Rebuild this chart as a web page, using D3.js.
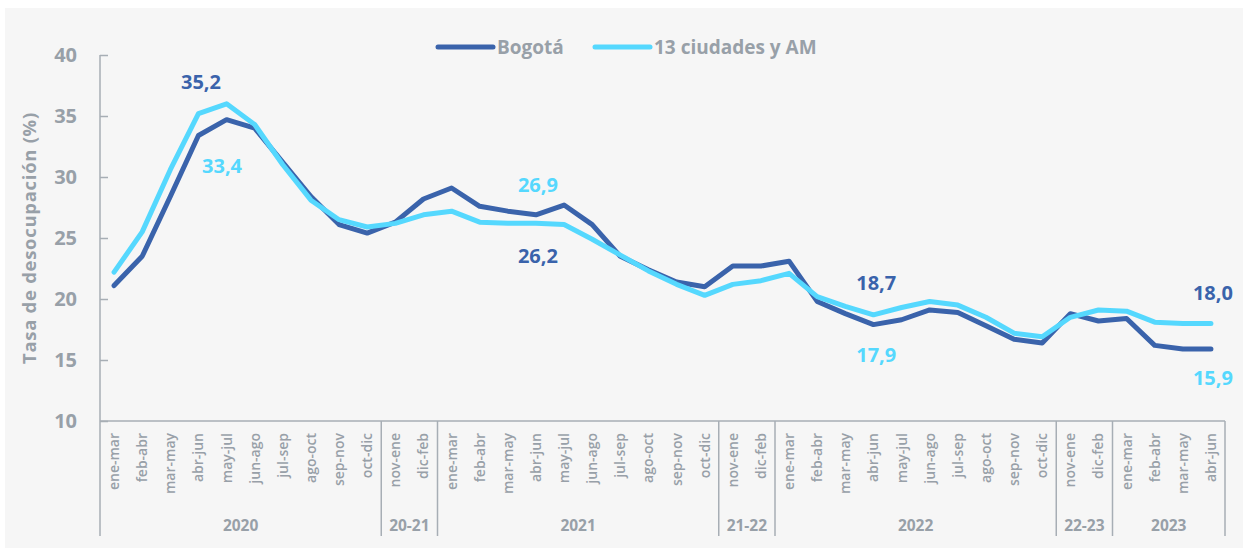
<!DOCTYPE html>
<html>
<head>
<meta charset="utf-8" />
<title>Tasa de desocupación</title>
<script src="https://cdn.jsdelivr.net/npm/d3@7"></script>
<style>
    body { margin: 0; background: #ffffff; }
    svg text { font-family: "Open Sans", Lato, sans-serif; }
    .axis path, .axis line { stroke: #a7aeb5; stroke-width: 1.5; }
    .grey { fill: #98a0a8; font-weight: 700; }
</style>
</head>
<body>
<div id="chart"></div>
<script>
// periodos móviles trimestrales
var meses = ["ene-mar","feb-abr","mar-may","abr-jun","may-jul","jun-ago","jul-sep","ago-oct","sep-nov","oct-dic"];
var grupos = ["2020", "20-21", "2021", "21-22", "2022", "22-23", "2023"];
var tamGrupos = [10, 2, 10, 2, 10, 2, 4];
var periodos = [].concat(meses, ["nov-ene","dic-feb"], meses, ["nov-ene","dic-feb"], meses,
                         ["nov-ene","dic-feb"], meses.slice(0, 4));

var bogota = [21.1, 23.5, 28.4, 33.4, 34.7, 34.0, 31.2, 28.4, 26.1, 25.4,
              26.3, 28.2,
              29.1, 27.6, 27.2, 26.9, 27.7, 26.1, 23.5, 22.4, 21.4, 21.0,
              22.7, 22.7,
              23.1, 19.8, 18.8, 17.9, 18.3, 19.1, 18.9, 17.8, 16.7, 16.4,
              18.8, 18.2,
              18.4, 16.2, 15.9, 15.9];
var ciudades = [22.2, 25.5, 30.6, 35.2, 36.0, 34.3, 31.0, 28.1, 26.5, 25.9,
                26.2, 26.9,
                27.2, 26.3, 26.2, 26.2, 26.1, 24.9, 23.6, 22.3, 21.2, 20.3,
                21.2, 21.5,
                22.1, 20.2, 19.4, 18.7, 19.3, 19.8, 19.5, 18.5, 17.2, 16.9,
                18.5, 19.1,
                19.0, 18.1, 18.0, 18.0];
var yTicks = [10, 15, 20, 25, 30, 35, 40];

// etiquetas: indice, texto, serie, desplazamiento vertical
var etiquetas = [
    {i: 3.09, txt: "35,2", s: "b", v: 35.2, dy: -30},
    {i: 3.84, txt: "33,4", s: "c", v: 33.4, dy: 32},
    {i: 15.07, txt: "26,9", s: "c", v: 26.9, dy: -28},
    {i: 15.07, txt: "26,2", s: "b", v: 26.2, dy: 34},
    {i: 27.1, txt: "18,7", s: "b", v: 18.7, dy: -30},
    {i: 27.1, txt: "17,9", s: "c", v: 17.9, dy: 32},
    {i: 39.07, txt: "18,0", s: "b", v: 18.0, dy: -29},
    {i: 39.07, txt: "15,9", s: "c", v: 15.9, dy: 31}
];

var W = 1248, H = 552;
var colB = "#3a63ab", colC = "#55d8fe";
var mLeft = 100, mRight = 1225, mTop = 55, mBottom = 421;

var svg = d3.select("#chart").append("svg")
    .attr("width", W).attr("height", H);

svg.append("rect")
    .attr("x", 5).attr("y", 8)
    .attr("width", W - 10).attr("height", H - 12)
    .attr("fill", "#f6f6f6");

var idx = d3.range(periodos.length);
var x = d3.scalePoint().domain(idx).range([mLeft, mRight]).padding(0.5);
var y = d3.scaleLinear().domain([10, 40]).range([mBottom, mTop]);

// eje y
var yAxis = svg.append("g")
    .attr("class", "axis")
    .attr("transform", "translate(" + mLeft + ",0)")
    .call(d3.axisLeft(y).tickValues(yTicks).tickSizeInner(-8).tickSizeOuter(0).tickPadding(23));
yAxis.select(".domain").remove();
yAxis.selectAll("text")
    .attr("class", "grey")
    .style("font-size", "20px");

svg.append("text")
    .attr("class", "grey")
    .attr("transform", "translate(36,238) rotate(-90)")
    .attr("text-anchor", "middle")
    .style("font-size", "18.5px")
    .style("letter-spacing", "0.7px")
    .text("Tasa de desocupación (%)");

// lineas de ejes
svg.append("line").attr("x1", mLeft).attr("x2", mLeft).attr("y1", mTop).attr("y2", 536)
    .attr("stroke", "#a7aeb5").attr("stroke-width", 1.5);
svg.append("line").attr("x1", mLeft).attr("x2", mRight).attr("y1", mBottom).attr("y2", mBottom)
    .attr("stroke", "#a7aeb5").attr("stroke-width", 1.5);

// etiquetas del eje x
var step = x.step();
svg.append("g").selectAll("text")
    .data(periodos)
    .enter().append("text")
    .attr("fill", "#98a0a8")
    .style("font-size", "14px")
    .style("font-weight", 600)
    .attr("text-anchor", "end")
    .attr("transform", function(d, i) { return "translate(" + (x(i) + 5) + ",433) rotate(-90)"; })
    .text(function(d) { return d; });

// grupos
var acc = 0;
grupos.forEach(function(g, k) {
    var x0 = mLeft + acc * step;
    acc += tamGrupos[k];
    var x1 = mLeft + acc * step;
    svg.append("line").attr("x1", x1).attr("x2", x1).attr("y1", mBottom).attr("y2", 536)
        .attr("stroke", "#a7aeb5").attr("stroke-width", 1.5);
    svg.append("text")
        .attr("class", "grey")
        .attr("x", (x0 + x1) / 2).attr("y", 531)
        .attr("text-anchor", "middle")
        .style("font-size", "15.5px")
        .text(g);
});

// series
var line = d3.line()
    .x(function(d, i) { return x(i); })
    .y(function(d) { return y(d); });

svg.append("path").datum(bogota)
    .attr("d", line).attr("fill", "none")
    .attr("stroke", colB).attr("stroke-width", 5)
    .attr("stroke-linejoin", "round").attr("stroke-linecap", "round");
svg.append("path").datum(ciudades)
    .attr("d", line).attr("fill", "none")
    .attr("stroke", colC).attr("stroke-width", 5)
    .attr("stroke-linejoin", "round").attr("stroke-linecap", "round");

// etiquetas de datos
svg.append("g").selectAll("text")
    .data(etiquetas)
    .enter().append("text")
    .attr("x", function(d) { return mLeft + (d.i + 0.5) * step; })
    .attr("y", function(d) { return y(d.v) + d.dy; })
    .attr("text-anchor", "middle")
    .attr("dominant-baseline", "middle")
    .attr("fill", function(d) { return d.s == "b" ? colB : colC; })
    .style("font-size", "20px")
    .style("font-weight", 700)
    .text(function(d) { return d.txt; });

// leyenda
var leyenda = [{t: "Bogotá", c: colB, x: 438}, {t: "13 ciudades y AM", c: colC, x: 595}];
leyenda.forEach(function(l) {
    svg.append("line").attr("x1", l.x).attr("x2", l.x + 55).attr("y1", 47).attr("y2", 47)
        .attr("stroke", l.c).attr("stroke-width", 5).attr("stroke-linecap", "round");
    svg.append("text").attr("class", "grey")
        .attr("x", l.x + 59).attr("y", 54)
        .style("font-size", "19px")
        .text(l.t);
});
</script>
</body>
</html>
